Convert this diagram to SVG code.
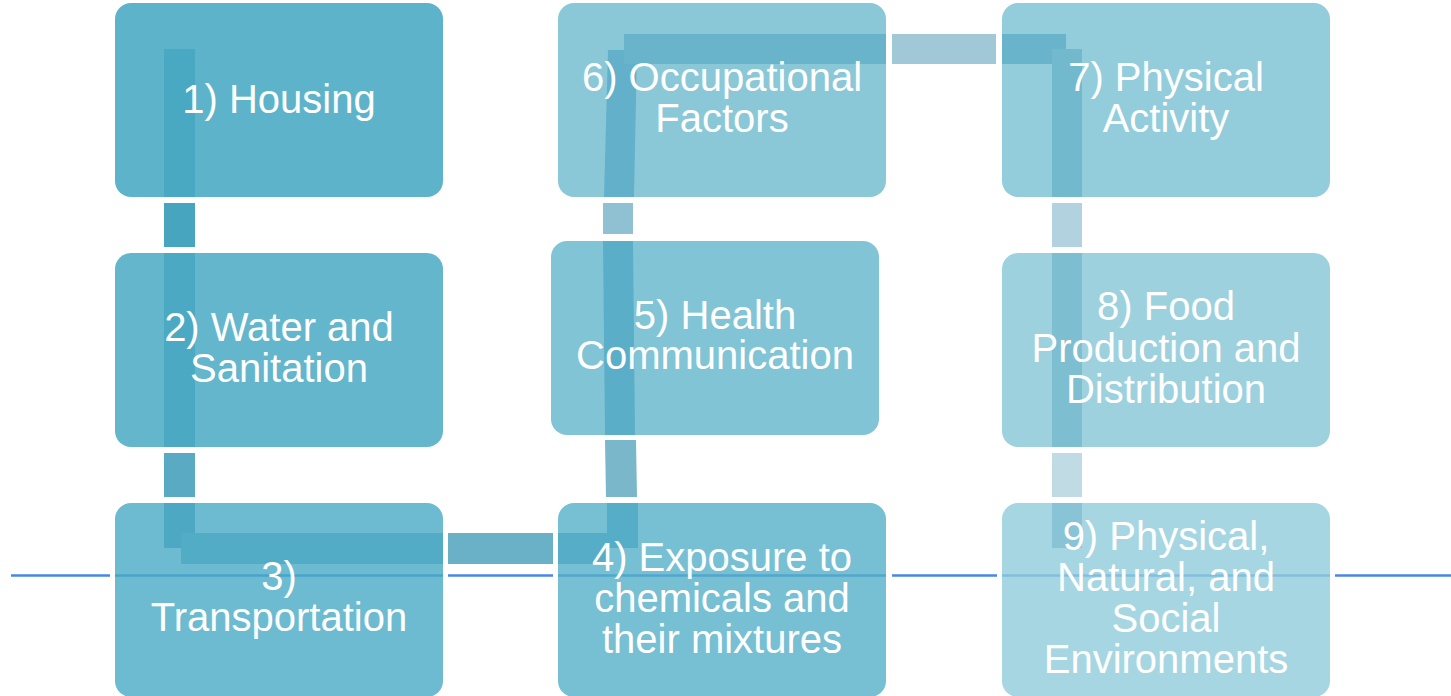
<svg xmlns="http://www.w3.org/2000/svg" width="1451" height="696" viewBox="0 0 1451 696">
<style>
.box{fill-opacity:0.8}
.lbl{font-family:"Liberation Sans",Arial,sans-serif;font-size:40px;fill:#ffffff;text-anchor:middle}
.guide{stroke:#4A86E8;stroke-width:2.5;fill:none}
</style>
<rect width="1451" height="696" fill="#ffffff"/>
<g id="guide-line">
<path class="guide" d="M11,575.5H110M115,575.5H443M448,575.5H553M558,575.5H886M892,575.5H997M1002,575.5H1330M1335,575.5H1451"/>
</g>
<g id="connectors">
<rect x="164" y="49" width="31" height="148" fill="#9BC8D7"/>
<rect x="164" y="203" width="31" height="44" fill="#47A5BF"/>
<rect x="164" y="253" width="31" height="194" fill="#87BED2"/>
<rect x="164" y="453" width="31" height="44" fill="#59AAC2"/>
<rect x="164" y="503" width="31" height="45" fill="#5FA5BE"/>
<rect x="181" y="533" width="262" height="31" fill="#78B4CD"/>
<rect x="448" y="533" width="105" height="31" fill="#6AB0C7"/>
<polygon points="558,533 607,533 607,503 638,503 638,548 608,548 608,564 558,564" fill="#55A5C3"/>
<polygon points="605,440 636,440 637,497 606,497" fill="#7BB7CA"/>
<polygon points="603,241 633,241 635,435 605,435" fill="#4191BE"/>
<polygon points="603,203 633,203 633,234 603,234" fill="#8FC1D3"/>
<polygon points="608,50 637,50 634,197 604,197" fill="#3787B9"/>
<rect x="624" y="34" width="262" height="30" fill="#5A9BBE"/>
<rect x="892" y="34" width="104" height="30" fill="#A0C8D6"/>
<rect x="1002" y="34" width="64" height="30" fill="#2D82AA"/>
<rect x="1052" y="49" width="30" height="148" fill="#5A9BBE"/>
<rect x="1052" y="203" width="30" height="44" fill="#B2D2DF"/>
<rect x="1052" y="253" width="30" height="194" fill="#5FA0BE"/>
<rect x="1052" y="453" width="30" height="44" fill="#C1DBE4"/>
<rect x="1052" y="503" width="30" height="45" fill="#69A5C3"/>
</g>
<g id="node1"><rect class="box" x="115" y="3" width="328" height="194" rx="16" fill="#35A0BD"/><text class="lbl" x="279" y="113">1) Housing</text></g>
<g id="node2"><rect class="box" x="115" y="253" width="328" height="194" rx="16" fill="#3CA4BF"/><text class="lbl" x="279" y="341">2) Water and</text><text class="lbl" x="279" y="382">Sanitation</text></g>
<g id="node3"><rect class="box" x="115" y="503" width="328" height="194" rx="16" fill="#49AAC4"/><text class="lbl" x="279" y="590">3)</text><text class="lbl" x="279" y="631">Transportation</text></g>
<g id="node4"><rect class="box" x="558" y="503" width="328" height="194" rx="16" fill="#55AFC8"/><text class="lbl" x="722" y="571">4) Exposure to</text><text class="lbl" x="722" y="612">chemicals and</text><text class="lbl" x="722" y="653">their mixtures</text></g>
<g id="node5"><rect class="box" x="551" y="241" width="328" height="194" rx="16" fill="#62B5CB"/><text class="lbl" x="715" y="329">5) Health</text><text class="lbl" x="715" y="369">Communication</text></g>
<g id="node6"><rect class="box" x="558" y="3" width="328" height="194" rx="16" fill="#6DBACE"/><text class="lbl" x="722" y="91">6) Occupational</text><text class="lbl" x="722" y="132">Factors</text></g>
<g id="node7"><rect class="box" x="1002" y="3" width="328" height="194" rx="16" fill="#78C1D2"/><text class="lbl" x="1166" y="91">7) Physical</text><text class="lbl" x="1166" y="132">Activity</text></g>
<g id="node8"><rect class="box" x="1002" y="253" width="328" height="194" rx="16" fill="#85C6D6"/><text class="lbl" x="1166" y="320">8) Food</text><text class="lbl" x="1166" y="362">Production and</text><text class="lbl" x="1166" y="403">Distribution</text></g>
<g id="node9"><rect class="box" x="1002" y="503" width="328" height="194" rx="16" fill="#90CCDB"/><text class="lbl" x="1166" y="550">9) Physical,</text><text class="lbl" x="1166" y="591">Natural, and</text><text class="lbl" x="1166" y="632">Social</text><text class="lbl" x="1166" y="673">Environments</text></g>
</svg>
